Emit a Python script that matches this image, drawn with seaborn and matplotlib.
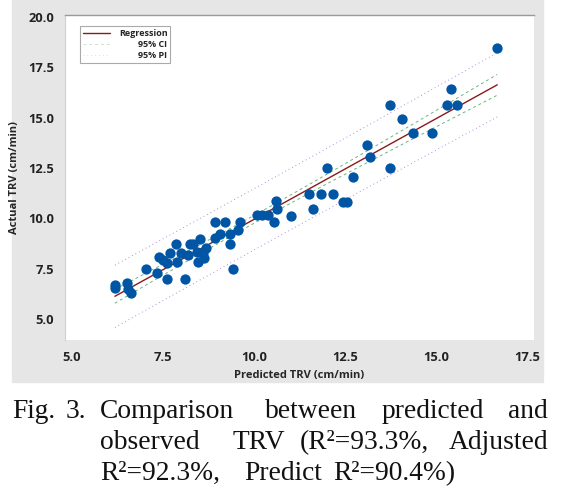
import numpy as np
import pandas as pd
import matplotlib
matplotlib.use("agg")
import matplotlib.pyplot as plt
from matplotlib.patches import Rectangle
import seaborn as sns

# predicted vs. actual TRV (cm/min)
predicted = [16.68, 15.41, 13.74, 15.29, 15.57, 14.07, 14.38, 14.90, 13.10, 13.19,
             12.01, 13.74, 12.71, 11.51, 11.84, 12.18, 12.45, 12.55, 11.61, 10.60,
             10.62, 10.07, 10.21, 10.39, 10.55, 11.03,
             8.93, 9.20, 9.62, 9.57, 9.07, 8.93, 9.34, 8.52, 8.33, 7.86,
             8.24, 9.34, 8.67,
             6.18, 6.18, 6.50, 6.55, 6.62, 7.03, 7.34, 7.40, 7.60, 7.62,
             7.88, 8.10, 7.69, 8.19, 8.43, 8.61, 8.47, 8.63, 9.43, 7.50, 8.00]
actual = [18.45, 16.43, 15.65, 15.65, 15.65, 14.95, 14.25, 14.25, 13.65, 13.05,
          12.50, 12.50, 12.05, 11.20, 11.20, 11.20, 10.80, 10.80, 10.45, 10.85,
          10.45, 10.15, 10.15, 10.15, 9.80, 10.10,
          9.80, 9.80, 9.80, 9.40, 9.20, 9.00, 9.20, 8.95, 8.73, 8.73,
          8.73, 8.70, 8.51,
          6.70, 6.55, 6.80, 6.47, 6.28, 7.47, 7.30, 8.06, 7.77, 6.97,
          7.85, 6.97, 8.26, 8.18, 8.34, 8.26, 7.85, 8.02, 7.47, 7.95, 8.25]

x_ticks = [5.0, 7.5, 10.0, 12.5, 15.0, 17.5]
y_ticks = [5.0, 7.5, 10.0, 12.5, 15.0, 17.5, 20.0]

caption = [
    [("Fig.", 12, "left"), ("3.", 66, "left"), ("Comparison", 100, "left"),
     ("between", 265, "left"), ("predicted", 382, "left"), ("and", 548, "right")],
    [("observed", 100, "left"), ("TRV", 233, "left"), ("(R\u00b2=93.3%,", 300, "left"),
     ("Adjusted", 548, "right")],
    [("R\u00b2=92.3%,", 100, "left"), ("Predict", 244, "left"), ("R\u00b2=90.4%)", 333, "left")],
]

sns.set_style("white")
plt.rcParams["font.family"] = ["Open Sans", "DejaVu Sans"]

df = pd.DataFrame({"pred": predicted, "act": actual})

# least squares fit with 95% CI / PI
x = df["pred"].to_numpy()
y = df["act"].to_numpy()
n = len(x)
b1, b0 = np.polyfit(x, y, 1)
resid = y - (b0 + b1 * x)
s = np.sqrt(np.sum(resid ** 2) / (n - 2))
t = 2.002
sxx = np.sum((x - x.mean()) ** 2)
xs = np.linspace(x.min(), x.max(), 100)
fit = b0 + b1 * xs
ci = t * s * np.sqrt(1 / n + (xs - x.mean()) ** 2 / sxx)
pi = t * s * np.sqrt(1 + 1 / n + (xs - x.mean()) ** 2 / sxx)
bands = pd.DataFrame({"x": xs, "fit": fit, "ci_lo": fit - ci, "ci_hi": fit + ci,
                      "pi_lo": fit - pi, "pi_hi": fit + pi})

W, H = 564, 491
fig = plt.figure(figsize=(W / 100, H / 100), dpi=100, facecolor="white")
fig.patches.append(Rectangle((12 / W, 1 - 382 / H), 531 / W, 382 / H,
                             transform=fig.transFigure, color="#e6e6e6", zorder=-1))
ax = fig.add_axes([65 / W, 1 - 340 / H, 469 / W, 325 / H])
ax.set_zorder(1)
ax.set_facecolor("white")

sns.lineplot(data=bands, x="x", y="fit", ax=ax, color="#8b1a1a", lw=1.0, label="Regression")
sns.lineplot(data=bands, x="x", y="ci_hi", ax=ax, color="#4fa868", lw=0.7, alpha=0.85,
             linestyle=(0, (3, 3)), label="95% CI")
sns.lineplot(data=bands, x="x", y="ci_lo", ax=ax, color="#4fa868", lw=0.7, alpha=0.85,
             linestyle=(0, (3, 3)))
sns.lineplot(data=bands, x="x", y="pi_hi", ax=ax, color="#a47ad0", lw=0.7, alpha=0.85,
             linestyle=(0, (1, 3)), label="95% PI")
sns.lineplot(data=bands, x="x", y="pi_lo", ax=ax, color="#a47ad0", lw=0.7, alpha=0.85,
             linestyle=(0, (1, 3)))
sns.scatterplot(data=df, x="pred", y="act", ax=ax, color="#0055a5", s=55,
                linewidth=0, zorder=5)

ax.set_xlim(4.81, 17.69)
ax.set_ylim(3.95, 20.1)
ax.set_xticks(x_ticks)
ax.set_yticks(y_ticks)
ax.set_xticklabels([f"{v:.1f}" for v in x_ticks], fontweight="bold")
ax.set_yticklabels([f"{v:.1f}" for v in y_ticks], fontweight="bold")
ax.tick_params(axis="both", length=3, width=0.8, color="#999999", pad=5,
               labelsize=9.3, labelcolor="#222222")
ax.set_xlabel("Predicted TRV (cm/min)", fontsize=8, fontweight="bold", labelpad=4)
ax.set_ylabel("Actual TRV (cm/min)", fontsize=8, fontweight="bold", labelpad=6)

for side in ["right", "bottom"]:
    ax.spines[side].set_visible(False)
ax.spines["top"].set_color("#999999")
ax.spines["top"].set_linewidth(1.0)
ax.spines["left"].set_color("#d0d0d0")
ax.spines["left"].set_linewidth(0.8)

leg = ax.legend(loc="upper left", bbox_to_anchor=(0.032, 0.966), borderaxespad=0,
                frameon=True, fancybox=False, handlelength=3.0,
                handletextpad=1.0, labelspacing=0.25, borderpad=0.3,
                prop={"weight": "bold", "size": 6.5})
leg.get_frame().set_edgecolor("#aaaaaa")
leg.get_frame().set_linewidth(0.8)
leg.get_frame().set_facecolor("white")
leg.get_frame().set_alpha(1)
for line in leg.get_lines()[1:]:
    line.set_alpha(0.3)

# right-align the legend labels, as in the original
fig.canvas.draw()
renderer = fig.canvas.get_renderer()
items = [it for col in leg._legend_handle_box.get_children() for it in col.get_children()]
wmax = max(it.get_bbox(renderer).width for it in items)
for it in items:
    it.mode = "expand"
    it.width = wmax

for row, base in zip(caption, [418, 449, 480]):
    for word, px, ha in row:
        fig.text(px / W, 1 - base / H, word, ha=ha, va="baseline",
                 family="Liberation Serif", fontsize=19.8, color="#111111")

fig.savefig("out.png", dpi=100, facecolor="white")
